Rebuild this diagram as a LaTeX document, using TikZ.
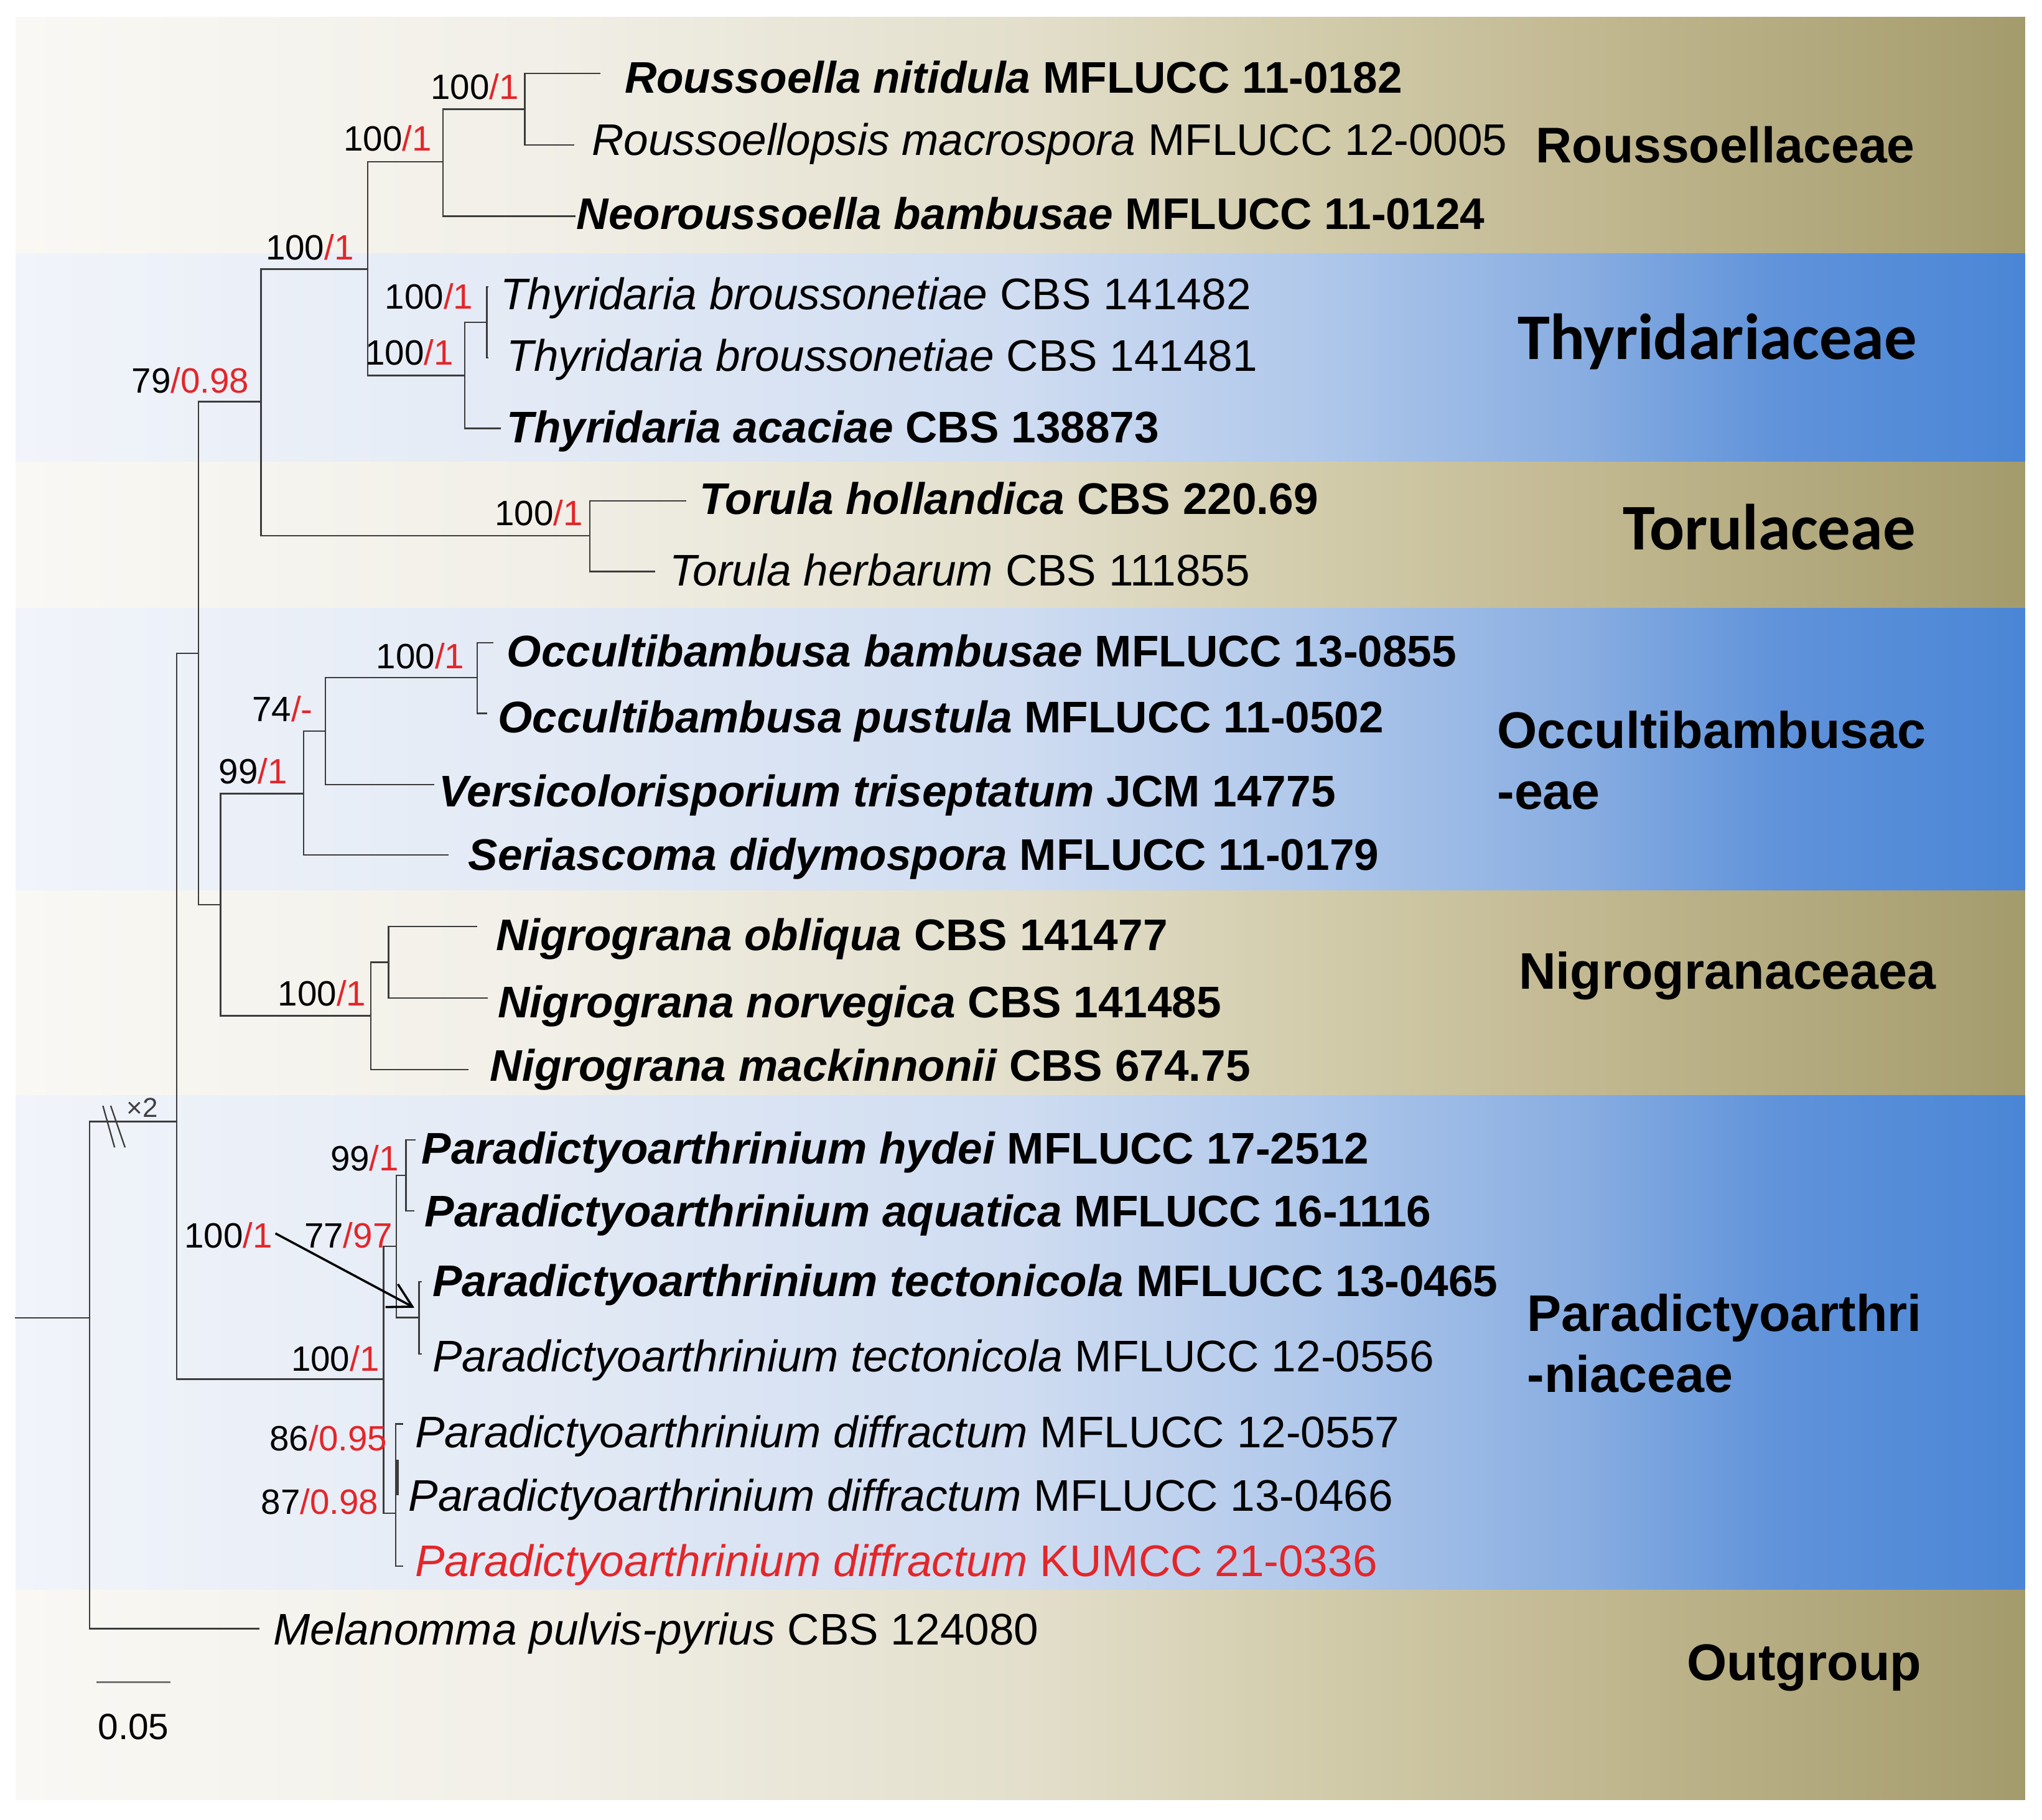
\documentclass[tikz,border=0pt]{standalone}
\usepackage{fontspec}
\setmainfont{Liberation Sans}
\newfontfamily\carlito{Carlito}
\usetikzlibrary{arrows.meta}
\definecolor{tanA}{HTML}{F9F8F4}
\definecolor{tanB}{HTML}{F1EFE7}
\definecolor{tanC}{HTML}{E3DFCC}
\definecolor{tanD}{HTML}{D3CDAD}
\definecolor{tanE}{HTML}{BDB38A}
\definecolor{tanF}{HTML}{A49B6D}
\definecolor{bluA}{HTML}{F1F4FA}
\definecolor{bluB}{HTML}{E3EAF5}
\definecolor{bluC}{HTML}{CFDCF1}
\definecolor{bluD}{HTML}{B2C9EB}
\definecolor{bluE}{HTML}{88ADE1}
\definecolor{bluF}{HTML}{5F92DA}
\definecolor{bluG}{HTML}{4A86D6}
\definecolor{supred}{HTML}{E3262A}
\definecolor{branch}{HTML}{3C3C3C}
\pgfdeclarehorizontalshading{tanband}{100bp}{color(0bp)=(tanA); color(25bp)=(tanA); color(38bp)=(tanB); color(50bp)=(tanC); color(57bp)=(tanD); color(66bp)=(tanE); color(75bp)=(tanF); color(100bp)=(tanF)}
\pgfdeclarehorizontalshading{bluband}{100bp}{color(0bp)=(bluA); color(25bp)=(bluA); color(38bp)=(bluB); color(50bp)=(bluC); color(57bp)=(bluD); color(64bp)=(bluE); color(69bp)=(bluF); color(75bp)=(bluG); color(100bp)=(bluG)}
\begin{document}
\begin{tikzpicture}[x=0.5pt,y=-0.5pt,
  br/.style={draw=branch,line width=0.55pt},
  taxon/.style={anchor=base west,inner sep=0pt,font=\fontsize{17}{20}\selectfont},
  sup/.style={anchor=base east,inner sep=0pt,font=\fontsize{13.5}{16}\selectfont},
  fam/.style={anchor=base west,inner sep=0pt,font=\fontsize{19.75}{24}\selectfont\bfseries},
  famc/.style={anchor=base west,inner sep=0pt,font=\fontsize{25}{30}\selectfont\carlito\bfseries},
  arrowline/.style={draw=black,line width=0.85pt,-{Straight Barb[length=9pt,width=10pt]}},
  scalebar/.style={draw=black!55,line width=0.7pt}]
\useasboundingbox (0,0) rectangle (1568,1397);
\fill[white] (0,0) rectangle (1568,1397);
% bands
\shade[shading=tanband] (12,13) rectangle (1555,194.5);
\shade[shading=bluband] (12,194.5) rectangle (1555,354.5);
\shade[shading=tanband] (12,354.5) rectangle (1555,467);
\shade[shading=bluband] (12,467) rectangle (1555,684);
\shade[shading=tanband] (12,684) rectangle (1555,841);
\shade[shading=bluband] (12,841) rectangle (1555,1221);
\shade[shading=tanband] (12,1221) rectangle (1555,1382);
% internal nodes
\coordinate (rootstub) at (11.7,1012);
\coordinate (root) at (68.7,1012);
\coordinate (nR6) at (135.7,861.2);
\coordinate (nR5) at (152.5,501.7);
\coordinate (nR4) at (200.4,308.4);
\coordinate (nR3) at (282.5,206.6);
\coordinate (nR2) at (340,124.3);
\coordinate (nR1) at (403,83.8);
\coordinate (nT2) at (357,288.3);
\coordinate (nT1) at (373.9,247.6);
\coordinate (nTor) at (453,411.3);
\coordinate (nR7) at (169.3,694.6);
\coordinate (nO99) at (233,609.3);
\coordinate (nO74) at (249.7,561.2);
\coordinate (nO100) at (366.6,520.4);
\coordinate (nNig) at (284.9,779.9);
\coordinate (nNin) at (298.3,738.8);
\coordinate (nPara) at (294.6,1059);
\coordinate (nP77) at (304.2,957.1);
\coordinate (nP99) at (311.8,902.6);
\coordinate (nPtec) at (321.7,1011.6);
\coordinate (nPdif) at (303.9,1161.8);
% tips
\coordinate (tRn) at (461,56.4);
\coordinate (tRm) at (441,111.2);
\coordinate (tNeo) at (442,166);
\coordinate (tTb2) at (375,220.1);
\coordinate (tTb1) at (375,274.7);
\coordinate (tTa) at (384.6,328.9);
\coordinate (tTh) at (527,384.5);
\coordinate (tTherb) at (503,438.8);
\coordinate (tOB) at (379,493.4);
\coordinate (tOP) at (374.2,547.8);
\coordinate (tVe) at (333.5,602.3);
\coordinate (tSe) at (344.5,656.5);
\coordinate (tNo) at (366.3,711.4);
\coordinate (tNn) at (374.7,766.2);
\coordinate (tNm) at (359.6,821.1);
\coordinate (tPh) at (319.3,875.4);
\coordinate (tPa) at (318,929.6);
\coordinate (tPt1) at (324,984.2);
\coordinate (tPt2) at (324,1039.6);
\coordinate (tPd1) at (309.6,1093.3);
\coordinate (tPd3) at (309.6,1202.4);
\coordinate (tMel) at (199.4,1250.5);
\coordinate (d87a) at (304.7,1121);
\coordinate (d87b) at (304.7,1148);
% branches
\draw[br] (rootstub) -- (root);
\draw[br] (root) |- (nR6);
\draw[br] (root) |- (tMel);
\draw[br] (nR6) |- (nR5);
\draw[br] (nR6) |- (nPara);
\draw[br] (nR5) |- (nR4);
\draw[br] (nR5) |- (nR7);
\draw[br] (nR4) |- (nR3);
\draw[br] (nR4) |- (nTor);
\draw[br] (nR3) |- (nR2);
\draw[br] (nR3) |- (nT2);
\draw[br] (nR2) |- (nR1);
\draw[br] (nR2) |- (tNeo);
\draw[br] (nR1) |- (tRn);
\draw[br] (nR1) |- (tRm);
\draw[br] (nT2) |- (nT1);
\draw[br] (nT2) |- (tTa);
\draw[br] (nT1) |- (tTb2);
\draw[br] (nT1) |- (tTb1);
\draw[br] (nTor) |- (tTh);
\draw[br] (nTor) |- (tTherb);
\draw[br] (nR7) |- (nO99);
\draw[br] (nR7) |- (nNig);
\draw[br] (nO99) |- (nO74);
\draw[br] (nO99) |- (tSe);
\draw[br] (nO74) |- (nO100);
\draw[br] (nO74) |- (tVe);
\draw[br] (nO100) |- (tOB);
\draw[br] (nO100) |- (tOP);
\draw[br] (nNig) |- (nNin);
\draw[br] (nNig) |- (tNm);
\draw[br] (nNin) |- (tNo);
\draw[br] (nNin) |- (tNn);
\draw[br] (nPara) |- (nP77);
\draw[br] (nPara) |- (nPdif);
\draw[br] (nP77) |- (nP99);
\draw[br] (nP77) |- (nPtec);
\draw[br] (nP99) |- (tPh);
\draw[br] (nP99) |- (tPa);
\draw[br] (nPtec) |- (tPt1);
\draw[br] (nPtec) |- (tPt2);
\draw[br] (nPdif) |- (tPd1);
\draw[br] (nPdif) |- (tPd3);
\draw[br,line width=1.3pt] (d87a) -- (d87b);
% break marks
\coordinate (bk1a) at (79,849); \coordinate (bk1b) at (88,881);
\coordinate (bk2a) at (85,849); \coordinate (bk2b) at (96,881);
\draw[br] (bk1a) -- (bk1b);
\draw[br] (bk2a) -- (bk2b);
\node[anchor=base west,inner sep=0pt,font=\fontsize{10.5}{12}\selectfont,text=black!75] (times2) at (97,858) {×2};
% taxa
\node[taxon] (Rn) at (479.3,71.2) {\bfseries\itshape Roussoella nitidula \upshape MFLUCC 11-0182};
\node[taxon] (Rm) at (454.1,119.4) {\itshape Roussoellopsis macrospora \upshape MFLUCC 12-0005};
\node[taxon] (Neo) at (442.4,176) {\bfseries\itshape Neoroussoella bambusae \upshape MFLUCC 11-0124};
\node[taxon] (Tb2) at (383.8,237.7) {\itshape Thyridaria broussonetiae \upshape CBS 141482};
\node[taxon] (Tb1) at (388.8,285.2) {\itshape Thyridaria broussonetiae \upshape CBS 141481};
\node[taxon] (Ta) at (388.8,340) {\bfseries\itshape Thyridaria acaciae \upshape CBS 138873};
\node[taxon] (Th) at (537,395) {\bfseries\itshape Torula hollandica \upshape CBS 220.69};
\node[taxon] (Therb) at (514,450) {\itshape Torula herbarum \upshape CBS 111855};
\node[taxon] (OB) at (388.8,511.8) {\bfseries\itshape Occultibambusa bambusae \upshape MFLUCC 13-0855};
\node[taxon] (OP) at (382,562.5) {\bfseries\itshape Occultibambusa pustula \upshape MFLUCC 11-0502};
\node[taxon] (Ve) at (336.8,619.5) {\bfseries\itshape Versicolorisporium triseptatum \upshape JCM 14775};
\node[taxon] (Se) at (359.3,668) {\bfseries\itshape Seriascoma didymospora \upshape MFLUCC 11-0179};
\node[taxon] (No) at (380.4,729.6) {\bfseries\itshape Nigrograna obliqua \upshape CBS 141477};
\node[taxon] (Nn) at (382,781.4) {\bfseries\itshape Nigrograna norvegica \upshape CBS 141485};
\node[taxon] (Nm) at (376,830.2) {\bfseries\itshape Nigrograna mackinnonii \upshape CBS 674.75};
\node[taxon] (Ph) at (323.4,893.4) {\bfseries\itshape Paradictyoarthrinium hydei \upshape MFLUCC 17-2512};
\node[taxon] (Pa) at (325.8,941.8) {\bfseries\itshape Paradictyoarthrinium aquatica \upshape MFLUCC 16-1116};
\node[taxon] (Pt1) at (331.8,995.5) {\bfseries\itshape Paradictyoarthrinium tectonicola \upshape MFLUCC 13-0465};
\node[taxon] (Pt2) at (331.8,1053) {\itshape Paradictyoarthrinium tectonicola \upshape MFLUCC 12-0556};
\node[taxon] (Pd1) at (318.4,1111.5) {\itshape Paradictyoarthrinium diffractum \upshape MFLUCC 12-0557};
\node[taxon] (Pd2) at (313.4,1160.2) {\itshape Paradictyoarthrinium diffractum \upshape MFLUCC 13-0466};
\node[taxon,text=supred] (Pd3) at (318.4,1210.4) {\itshape Paradictyoarthrinium diffractum \upshape KUMCC 21-0336};
\node[taxon] (Mel) at (209.5,1263) {\itshape Melanomma pulvis-pyrius \upshape CBS 124080};
% supports
\node[sup] (sR1) at (398.8,76.2) {100\textcolor{supred}{/1}};
\node[sup] (sR2) at (331.8,115.8) {100\textcolor{supred}{/1}};
\node[sup] (sR3) at (272,199.6) {100\textcolor{supred}{/1}};
\node[sup] (sT1) at (363.6,237) {100\textcolor{supred}{/1}};
\node[sup] (sT2) at (348.6,280) {100\textcolor{supred}{/1}};
\node[sup] (sR4) at (191.7,301.6) {79\textcolor{supred}{/0.98}};
\node[sup] (sTor) at (448,403.7) {100\textcolor{supred}{/1}};
\node[sup] (sO100) at (357,513.3) {100\textcolor{supred}{/1}};
\node[sup] (sO74) at (240.6,553.8) {74\textcolor{supred}{/-}};
\node[sup] (sO99) at (221,601.7) {99\textcolor{supred}{/1}};
\node[sup] (sNig) at (281.5,772.3) {100\textcolor{supred}{/1}};
\node[sup] (sP99) at (306.7,898.8) {99\textcolor{supred}{/1}};
\node[sup] (sArr) at (209.5,957.9) {100\textcolor{supred}{/1}};
\node[sup] (sP77) at (301.6,957.9) {77\textcolor{supred}{/97}};
\node[sup] (sPara) at (291.6,1052.8) {100\textcolor{supred}{/1}};
\node[sup] (sP86) at (297.6,1113.7) {86\textcolor{supred}{/0.95}};
\node[sup] (sP87) at (291,1162.8) {87\textcolor{supred}{/0.98}};
% arrow
\coordinate (arrS) at (211.5,947);
\coordinate (arrE) at (318.2,1004.1);
\draw[arrowline] (arrS) -- (arrE);
% scale bar
\coordinate (sb1) at (74,1291.5);
\coordinate (sb2) at (131,1291.5);
\draw[scalebar] (sb1) -- (sb2);
\node[anchor=base,inner sep=0pt,font=\fontsize{14}{16}\selectfont] (sblab) at (102.5,1335.5) {0.05};
% families
\node[fam,font=\fontsize{19.25}{24}\selectfont\bfseries] (fRou) at (1179,124.9) {Roussoellaceae};
\node[famc] (fThy) at (1165,275.7) {Thyridariaceae};
\node[famc] (fTor) at (1245.7,422) {Torulaceae};
\node[fam] (fOcc1) at (1149.3,574.5) {Occultibambusac};
\node[fam] (fOcc2) at (1149.3,621.5) {-eae};
\node[fam] (fNig) at (1165.8,759.3) {Nigrogranaceaea};
\node[fam] (fPar1) at (1172.4,1022) {Paradictyoarthri};
\node[fam] (fPar2) at (1172.4,1069) {-niaceae};
\node[fam] (fOut) at (1295,1290) {Outgroup};
\end{tikzpicture}
\end{document}
